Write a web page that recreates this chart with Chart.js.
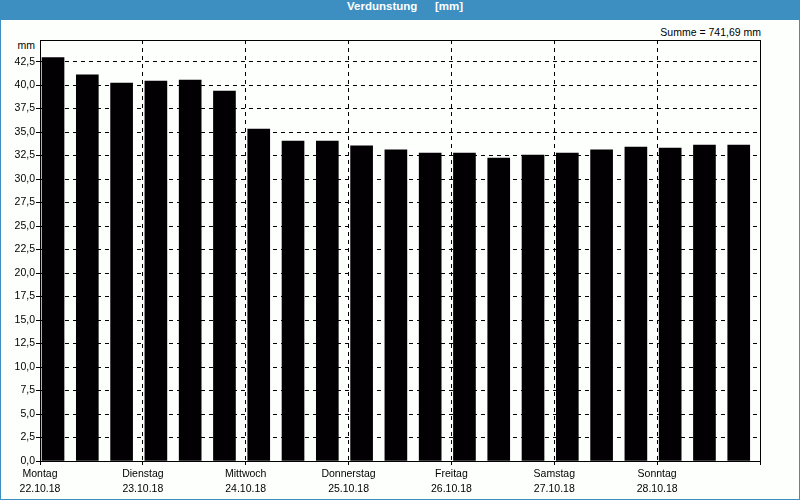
<!DOCTYPE html>
<html>
<head>
<meta charset="utf-8">
<script src="https://cdn.jsdelivr.net/npm/chart.js@4/dist/chart.umd.min.js"></script>
<style>
  body { margin: 0; }
  #frame { position: relative; width: 800px; height: 500px; background: #3d8fc2; overflow: hidden; }
  #inner { position: absolute; left: 1px; top: 20px; width: 798px; height: 479px; background: #fdfffd; }
  .head { position: absolute; top: 0; height: 20px; line-height: 20px; color: #fff; font: bold 11.5px "Liberation Sans", Arial, sans-serif; }
  .txt { position: absolute; color: #000; font: 10.5px "Liberation Sans", Arial, sans-serif; line-height: 13px; white-space: nowrap; }
  #chart { position: absolute; left: 1px; top: 20px; }
</style>
</head>
<body>
<div id="frame">
  <div id="inner"></div>
  <span class="head" style="left:347px">Verdunstung</span>
  <span class="head" style="left:435px">[mm]</span>
  <div class="txt" style="right:39px;top:26px">Summe = 741,69 mm</div>
  <div class="txt" style="right:765px;top:39px">mm</div>
  <canvas id="chart" width="798" height="479"></canvas>
</div>
<script>
// ---------- Daten ----------
const dayNames = ["Montag", "Dienstag", "Mittwoch", "Donnerstag", "Freitag", "Samstag", "Sonntag"];
const dayDates = ["22.10.18", "23.10.18", "24.10.18", "25.10.18", "26.10.18", "27.10.18", "28.10.18"];
// drei Werte pro Tag (mm)
const verdunstung = [
  42.93, 41.10, 40.22,
  40.44, 40.54, 39.37,
  35.33, 34.05, 34.05,
  33.55, 33.10, 32.78,
  32.78, 32.24, 32.56,
  32.78, 33.10, 33.41,
  33.31, 33.63, 33.63
];
const yTicks = [0, 2.5, 5, 7.5, 10, 12.5, 15, 17.5, 20, 22.5, 25, 27.5, 30, 32.5, 35, 37.5, 40, 42.5];
const dayTicks = [0, 3, 6, 9, 12, 15, 18, 21];

const barsPerDay = 3;
const slotShift = 0.38; // Balken sitzen etwas links in ihrem Slot

const font = { family: "'Liberation Sans', Arial, sans-serif", size: 10.5 };

// ---------- Rahmen ----------
const frameBox = {
  id: "frameBox",
  afterDraw(chart) {
    const { ctx, chartArea: a } = chart;
    ctx.save();
    ctx.strokeStyle = "#000";
    ctx.lineWidth = 1;
    ctx.strokeRect(Math.round(a.left) + 0.5, Math.round(a.top) + 0.5,
      Math.round(a.right - a.left), Math.round(a.bottom - a.top));
    ctx.restore();
  }
};

new Chart(document.getElementById("chart"), {
  type: "bar",
  data: {
    datasets: [{
      data: verdunstung.map((v, i) => ({ x: i + slotShift, y: v })),
      backgroundColor: "#030003",
      borderWidth: 0,
      barThickness: 22
    }]
  },
  options: {
    responsive: false,
    animation: false,
    devicePixelRatio: 1,
    layout: { padding: { top: 20, right: 39, left: 0, bottom: 0 } },
    plugins: { legend: { display: false }, tooltip: { enabled: false } },
    scales: {
      x: {
        type: "linear",
        min: 0,
        max: dayNames.length * barsPerDay,
        offset: false,
        afterBuildTicks: s => { s.ticks = dayTicks.map(v => ({ value: v })); },
        afterFit: s => { s.height = 38; },
        grid: { color: "#000", lineWidth: 1, offset: false, tickLength: 4 },
        border: { color: "#000", dash: [4, 4] },
        ticks: {
          color: "#000",
          font: { ...font, lineHeight: 15 / 10.5 },
          padding: 2,
          maxRotation: 0,
          autoSkip: false,
          callback: v => {
            const d = Math.round(v / barsPerDay);
            return d < dayNames.length ? [dayNames[d], dayDates[d]] : "";
          }
        }
      },
      y: {
        min: 0,
        max: 44.8,
        afterBuildTicks: s => { s.ticks = yTicks.map(v => ({ value: v })); },
        afterFit: s => { s.width = 39; },
        grid: { color: "#000", lineWidth: 1, tickLength: 4 },
        border: { color: "#000", dash: [4, 4] },
        ticks: {
          color: "#000",
          font: font,
          padding: 1,
          callback: v => v.toFixed(1).replace(".", ",")
        }
      }
    }
  },
  plugins: [frameBox]
});
</script>
</body>
</html>
